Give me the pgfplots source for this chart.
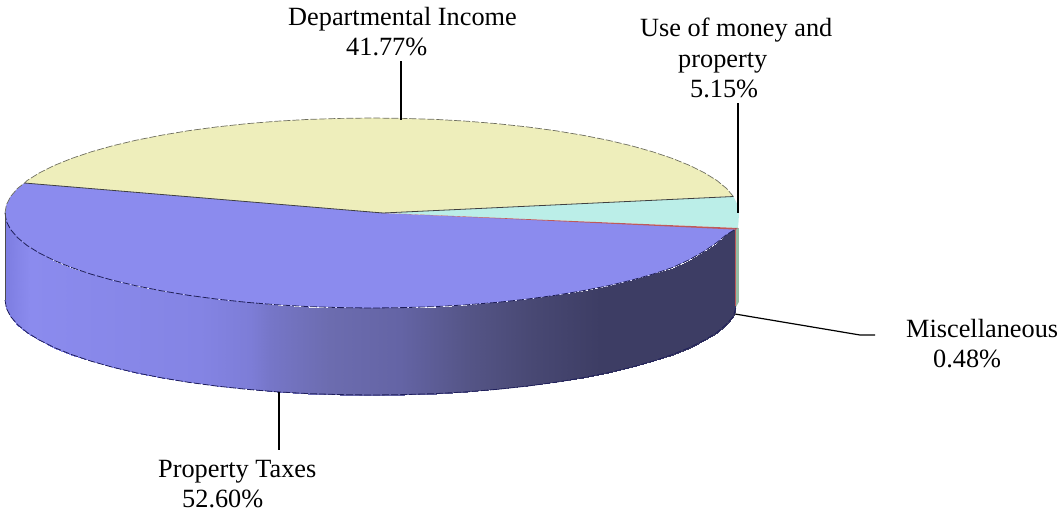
\documentclass[border=0pt]{standalone}
\usepackage{pgfplots}
\pgfplotsset{compat=1.18}
\usepackage{fontspec}
\setmainfont{Liberation Serif}
\definecolor{pieY}{RGB}{238,238,187}
\definecolor{pieC}{RGB}{187,238,232}
\definecolor{pieB}{RGB}{139,139,238}
\definecolor{pieR}{RGB}{190,90,90}
\definecolor{pieG}{RGB}{150,190,165}
\definecolor{edgeN}{RGB}{30,30,90}
\definecolor{edgeY}{RGB}{110,110,95}
\begin{document}
\begin{tikzpicture}[lbl/.style={font=\fontsize{26.3}{29.5}\selectfont, anchor=base west, inner sep=0pt}]
\begin{axis}[
  at={(0pt,0pt)}, anchor=south west,
  scale only axis, width=1058pt, height=512pt,
  xmin=0, xmax=1058, ymin=0, ymax=512, y dir=reverse,
  hide axis, clip=false,
  colormap={sidemap}{rgb255(5)=(125,125,225) rgb255(30)=(139,139,238) rgb255(200)=(132,132,228)
    rgb255(250)=(125,125,215) rgb255(270)=(118,118,200) rgb255(330)=(108,108,175) rgb255(400)=(100,100,165)
    rgb255(467)=(85,85,135) rgb255(533)=(72,72,115) rgb255(600)=(61,61,100) rgb255(739)=(61,61,100)},
  point meta min=5, point meta max=739,
]
% side wall (each pair: upper and lower edge)
\addplot[surf, shader=interp, mesh/cols=2, point meta=x] table {
x y
5 213
5 300
6.4 221.3
6.4 308.3
10.6 229.5
10.6 316.5
17.5 237.6
17.5 324.6
27.1 245.5
27.1 332.5
39.4 253.1
39.4 340.1
54.2 260.5
54.2 347.5
71.4 267.5
71.4 354.5
90.9 274.1
90.9 361.1
112.5 280.2
112.5 367.2
136.1 285.8
136.1 372.8
161.5 290.8
161.5 377.8
188.5 295.3
188.5 382.3
216.9 299.1
216.9 386.1
246.5 302.3
246.5 389.3
277 304.8
277 391.8
308.3 306.6
308.3 393.6
340 307.6
340 394.6
372 308
372 395
404 307.6
404 394.6
435.7 306.6
435.7 393.6
467 304.8
467 391.8
497.5 302.3
497.5 389.3
527.1 299.1
527.1 386.1
555.5 295.3
555.5 382.3
582.5 290.8
582.5 377.8
607.9 285.8
607.9 372.8
631.5 280.2
631.5 367.2
653.1 274.1
653.1 361.1
672.6 267.5
672.6 354.5
689.8 259.5
689.8 347.5
704.6 251
704.6 340.1
716.9 242.5
716.9 332.5
726 235
726 324.6
733.4 230
733.4 316.5
736 228.8
736 307
};
% slivers on the right wall
\addplot[draw=none, fill=pieG] coordinates {(736,228) (738.8,228) (738.8,302) (736,307)} -- cycle;
\addplot[pieR, line width=1pt] coordinates {(735.8,229) (735.8,306)};
% top face
\addplot[draw=none, fill=pieY] coordinates {(383,213) (733.4,196.5) (726.5,188.4) (716.9,180.5) (704.6,172.9) (689.8,165.5) (672.6,158.5) (653.1,151.9) (631.5,145.8) (607.9,140.2) (582.5,135.2) (555.5,130.7) (527.1,126.9) (497.5,123.7) (467,121.2) (435.7,119.4) (404,118.4) (372,118) (340,118.4) (308.3,119.4) (277,121.2) (246.5,123.7) (216.9,126.9) (188.5,130.7) (161.5,135.2) (136.1,140.2) (112.5,145.8) (90.9,151.9) (71.4,158.5) (54.2,165.5) (39.4,172.9) (27.1,180.5) (24.5,183)} -- cycle;
\addplot[draw=none, fill=pieB] coordinates {(383,213) (24.5,183) (17.5,188.4) (10.6,196.5) (6.4,204.7) (5,213) (6.4,221.3) (10.6,229.5) (17.5,237.6) (27.1,245.5) (39.4,253.1) (54.2,260.5) (71.4,267.5) (90.9,274.1) (112.5,280.2) (136.1,285.8) (161.5,290.8) (188.5,295.3) (216.9,299.1) (246.5,302.3) (277,304.8) (308.3,306.6) (340,307.6) (372,308) (404,307.6) (435.7,306.6) (467,304.8) (497.5,302.3) (527.1,299.1) (555.5,295.3) (582.5,290.8) (607.9,285.8) (631.5,280.2) (653.1,274.1) (672.6,267.5) (689.8,259.5) (704.6,251) (716.9,242.5) (726,235) (736,228.8)} -- cycle;
\addplot[draw=none, fill=pieC] coordinates {(383,213) (733.4,196.5) (737.6,204.7) (739,213) (738.6,221) (738,228)} -- cycle;
\addplot[draw=none, fill=pieR] coordinates {(383,213) (738,228) (736,229.6)} -- cycle;
% edges
\addplot[edgeY, line width=0.7pt, dash pattern=on 7pt off 2pt] coordinates {(733.4,196.5) (726.5,188.4) (716.9,180.5) (704.6,172.9) (689.8,165.5) (672.6,158.5) (653.1,151.9) (631.5,145.8) (607.9,140.2) (582.5,135.2) (555.5,130.7) (527.1,126.9) (497.5,123.7) (467,121.2) (435.7,119.4) (404,118.4) (372,118) (340,118.4) (308.3,119.4) (277,121.2) (246.5,123.7) (216.9,126.9) (188.5,130.7) (161.5,135.2) (136.1,140.2) (112.5,145.8) (90.9,151.9) (71.4,158.5) (54.2,165.5) (39.4,172.9) (27.1,180.5) (24.5,183) (17.5,188.4) (10.6,196.5) (6.4,204.7) (5,213)};
\addplot[edgeN, line width=0.8pt, dash pattern=on 7pt off 2pt] coordinates {(5,213) (6.4,221.3) (10.6,229.5) (17.5,237.6) (27.1,245.5) (39.4,253.1) (54.2,260.5) (71.4,267.5) (90.9,274.1) (112.5,280.2) (136.1,285.8) (161.5,290.8) (188.5,295.3) (216.9,299.1) (246.5,302.3) (277,304.8) (308.3,306.6) (340,307.6) (372,308) (404,307.6) (435.7,306.6) (467,304.8) (497.5,302.3) (527.1,299.1) (555.5,295.3) (582.5,290.8) (607.9,285.8) (631.5,280.2) (653.1,274.1) (672.6,267.5) (689.8,259.5) (704.6,251) (716.9,242.5) (726,235) (736,228.8)};
\addplot[edgeN, line width=0.8pt, dash pattern=on 7pt off 2pt] coordinates {(5,300) (6.4,308.3) (10.6,316.5) (17.5,324.6) (27.1,332.5) (39.4,340.1) (54.2,347.5) (71.4,354.5) (90.9,361.1) (112.5,367.2) (136.1,372.8) (161.5,377.8) (188.5,382.3) (216.9,386.1) (246.5,389.3) (277,391.8) (308.3,393.6) (340,394.6) (372,395) (404,394.6) (435.7,393.6) (467,391.8) (497.5,389.3) (527.1,386.1) (555.5,382.3) (582.5,377.8) (607.9,372.8) (631.5,367.2) (653.1,361.1) (672.6,354.5) (689.8,347.5) (704.6,340.1) (716.9,332.5) (726,324.6) (733.4,316.5) (736,307)};
\addplot[black!70, line width=0.6pt] coordinates {(5.5,213) (5.5,300)};
\addplot[black!75, line width=0.8pt] coordinates {(383,213) (24.5,183)};
\addplot[black!75, line width=0.8pt] coordinates {(383,213) (733.4,196.5)};
% leaders
\addplot[black, line width=1.2pt] coordinates {(401,61) (401,120)};
\addplot[black, line width=1.2pt] coordinates {(738,103) (738,213)};
\addplot[black, line width=1.2pt] coordinates {(735,314) (860,335) (875,335)};
\addplot[black, line width=1.2pt] coordinates {(279,392) (279,450)};
% labels
\node[lbl] at (axis cs:288,25) {Departmental Income};
\node[lbl] at (axis cs:346,55) {41.77\%};
\node[lbl] at (axis cs:640,36) {Use of money and};
\node[lbl] at (axis cs:678,67) {property};
\node[lbl] at (axis cs:690,97) {5.15\%};
\node[lbl] at (axis cs:906,337) {Miscellaneous};
\node[lbl] at (axis cs:933,367) {0.48\%};
\node[lbl] at (axis cs:158,477) {Property Taxes};
\node[lbl] at (axis cs:182,507) {52.60\%};
\end{axis}
\pgfresetboundingbox
\path[use as bounding box] (0pt,0pt) rectangle (1058pt,512pt);
\end{tikzpicture}
\end{document}
